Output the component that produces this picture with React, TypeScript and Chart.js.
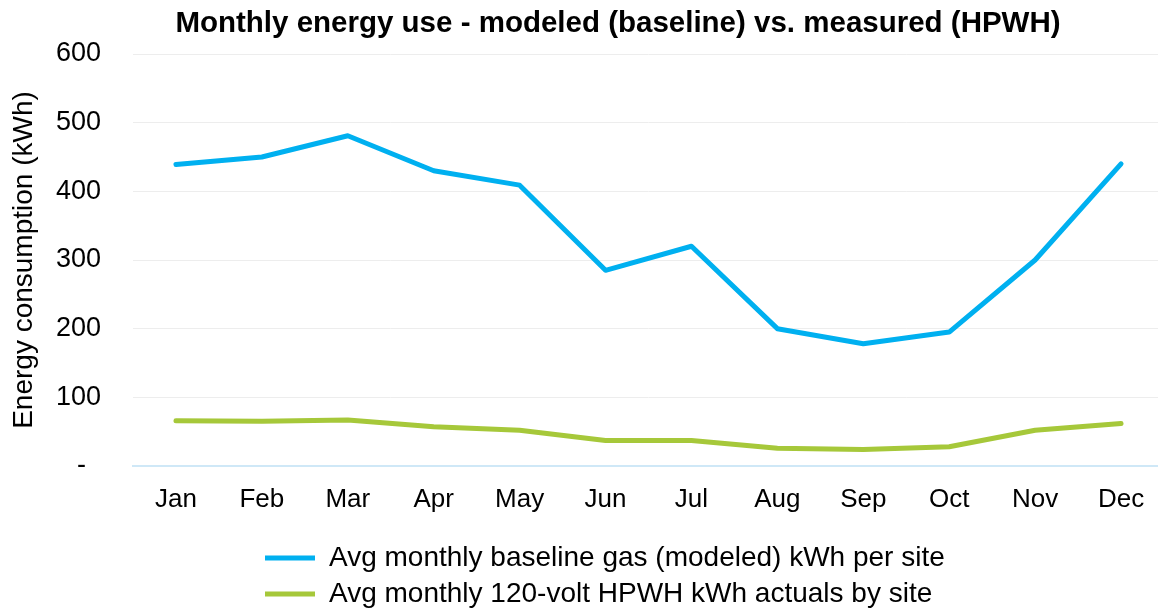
import React, { useEffect, useRef } from "react";
import { Chart, registerables } from "chart.js";

Chart.register(...registerables);

const months = ["Jan", "Feb", "Mar", "Apr", "May", "Jun", "Jul", "Aug", "Sep", "Oct", "Nov", "Dec"];
const baselineGas = [439, 450, 481, 430, 409, 285, 320, 200, 178, 195, 300, 440];
const hpwhActuals = [66, 65, 67, 57, 52, 37, 37, 26, 24, 28, 52, 62];
const yTicks = [0, 100, 200, 300, 400, 500, 600];

const titleText = "Monthly energy use - modeled (baseline) vs. measured (HPWH)";
const yTitleText = "Energy consumption (kWh)";
const seriesNames = [
  "Avg monthly baseline gas (modeled) kWh per site",
  "Avg monthly 120-volt HPWH kWh actuals by site",
];

const FONT = "'Liberation Sans', Arial, Helvetica, sans-serif";
const W = 1164;
const H = 609;

const positionPlugin = {
  id: "positionFix",
  afterLayout(chart: any) {
    const t = chart.titleBlock;
    if (t) {
      const cx = 618;
      const w = t.right - t.left;
      t.left = cx - w / 2;
      t.right = cx + w / 2;
    }
    const l = chart.legend;
    if (l) {
      const w = l.right - l.left;
      const h = l.bottom - l.top;
      l.left = 257;
      l.right = 257 + w;
      l.top = 536;
      l.bottom = 536 + h;
      if (typeof l.adjustHitBoxes === "function") l.adjustHitBoxes();
    }
  },
};

export default function App() {
  const ref = useRef<HTMLCanvasElement | null>(null);

  useEffect(() => {
    document.body.style.overflow = "hidden";
    document.documentElement.style.overflow = "hidden";
    const canvas = ref.current;
    if (!canvas) return;
    const chart = new Chart(canvas, {
      type: "line",
      data: {
        labels: months,
        datasets: [
          {
            label: seriesNames[0],
            data: baselineGas,
            borderColor: "#00B0F0",
            backgroundColor: "#00B0F0",
            borderWidth: 5,
            borderCapStyle: "round",
            borderJoinStyle: "round",
            pointRadius: 0,
            pointHoverRadius: 0,
            tension: 0,
            fill: false,
          },
          {
            label: seriesNames[1],
            data: hpwhActuals,
            borderColor: "#A6C83A",
            backgroundColor: "#A6C83A",
            borderWidth: 5,
            borderCapStyle: "round",
            borderJoinStyle: "round",
            pointRadius: 0,
            pointHoverRadius: 0,
            tension: 0,
            fill: false,
          },
        ],
      },
      options: {
        responsive: false,
        animation: false,
        devicePixelRatio: 1,
        layout: { padding: 0 },
        plugins: {
          title: {
            display: true,
            text: titleText,
            color: "#000",
            font: { family: FONT, size: 29.5, weight: "bold" },
            padding: { top: 6, bottom: 12.6 },
          },
          legend: {
            display: true,
            position: "bottom",
            align: "start",
            labels: {
              usePointStyle: true,
              pointStyle: "line",
              pointStyleWidth: 50,
              color: "#000",
              padding: 8,
              font: { family: FONT, size: 28 },
            },
          },
          tooltip: { enabled: false },
        },
        scales: {
          x: {
            type: "category",
            offset: true,
            afterFit: (s: any) => {
              s.height = 61;
            },
            grid: { display: false, drawTicks: false },
            border: { display: true, color: "#CFE8F7", width: 2 },
            ticks: {
              color: "#000",
              padding: 18,
              maxRotation: 0,
              autoSkip: false,
              font: { family: FONT, size: 26 },
            },
          },
          y: {
            min: 0,
            max: 600,
            afterFit: (s: any) => {
              s.width = 133;
            },
            afterBuildTicks: (s: any) => {
              s.ticks = yTicks.map((v) => ({ value: v }));
            },
            grid: {
              drawTicks: false,
              color: (c: any) => (c.tick && c.tick.value === 0 ? "rgba(0,0,0,0)" : "#EDEDED"),
              lineWidth: 1,
            },
            border: { display: false },
            ticks: {
              color: "#000",
              padding: 32,
              font: { family: FONT, size: 27 },
              callback: (v: any) => (Number(v) === 0 ? "-  " : String(v)),
            },
            title: {
              display: true,
              text: yTitleText,
              color: "#000",
              font: { family: FONT, size: 28 },
              padding: { top: 7, bottom: 0 },
            },
          },
        },
      },
      plugins: [positionPlugin],
    });
    return () => chart.destroy();
  }, []);

  return (
    <div style={{ position: "fixed", left: 0, top: 0, width: "100vw", height: "100vh", overflow: "hidden", background: "#fff" }}>
      <canvas ref={ref} width={W} height={H} style={{ display: "block", width: W + "px", height: H + "px" }} />
    </div>
  );
}
